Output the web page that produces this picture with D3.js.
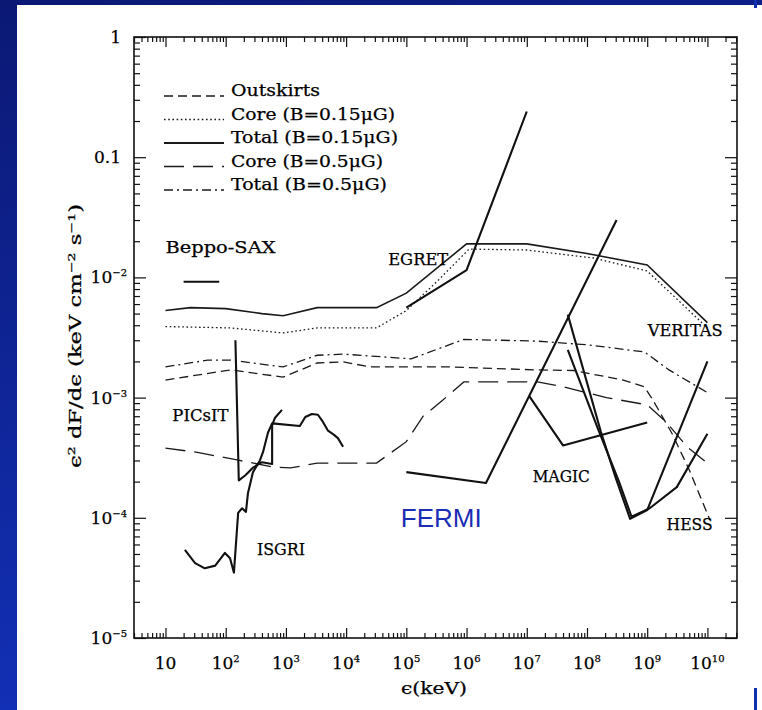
<!DOCTYPE html>
<html>
<head>
<meta charset="utf-8">
<script src="https://cdn.jsdelivr.net/npm/d3@7"></script>
<style>
  body { margin: 0; background: #fff; }
  svg { display: block; }
  .lbl { font-family: 'DejaVu Serif', serif; fill: #000; stroke: #000; stroke-width: 0.25px; }
</style>
</head>
<body>
<svg id="chart" width="762" height="710"></svg>
<script>
// model spectra: [energy (keV), e^2 dF/de (keV cm^-2 s^-1)]
var outskirts = [[10,1.4e-3],[120,1.7e-3],[900,1.48e-3],[3.3e3,1.94e-3],[9e3,1.98e-3],[2.5e4,1.8e-3],[5e5,1.8e-3],[1.5e7,1.7e-3],[6e7,1.68e-3],[4e8,1.4e-3],[9e8,1.23e-3],[1.25e9,9.5e-4],[2.6e9,5e-4],[5e9,2.5e-4],[1.1e10,9.6e-5]];
var core015 = [[10,3.9e-3],[120,3.8e-3],[900,3.45e-3],[3.3e3,3.8e-3],[3.2e4,3.8e-3],[1e5,5.3e-3],[3.2e5,9.2e-3],[1.1e6,1.72e-2],[1e7,1.69e-2],[1.3e8,1.45e-2],[1e9,1.13e-2],[1e10,3.8e-3]];
var total015 = [[10,5.3e-3],[26,5.6e-3],[100,5.5e-3],[400,5.0e-3],[900,4.8e-3],[3.3e3,5.6e-3],[3.2e4,5.6e-3],[1e5,7.4e-3],[1e6,1.9e-2],[1e7,1.9e-2],[1e8,1.58e-2],[1e9,1.27e-2],[1e10,4.2e-3]];
var core05 = [[10,3.8e-4],[34,3.5e-4],[170,3.0e-4],[600,2.65e-4],[1.2e3,2.6e-4],[3.3e3,2.85e-4],[3.2e4,2.85e-4],[1e5,4.3e-4],[1.9e5,7e-4],[4e5,9.5e-4],[9e5,1.35e-3],[1.5e7,1.35e-3],[4e7,1.23e-3],[2.1e8,1.0e-3],[1e9,8.7e-4],[2.1e9,6.2e-4],[4.6e9,3.9e-4],[1e10,2.85e-4]];
var total05 = [[10,1.8e-3],[50,2.05e-3],[120,2.05e-3],[900,1.8e-3],[3.3e3,2.25e-3],[9e3,2.3e-3],[1.2e5,2.1e-3],[9e5,3.05e-3],[1.5e7,2.95e-3],[1e8,2.75e-3],[9e8,2.4e-3],[2.3e9,1.7e-3],[1e10,1.1e-3]];

// instrument sensitivities
var beppoSax = [[20,9.2e-3],[78,9.2e-3]];
var picsit = [[145,3e-3],[165,2.05e-4],[210,2.25e-4],[280,2.6e-4],[400,2.9e-4],[590,2.8e-4],[590,5.9e-4],[660,6.8e-4],[860,7.9e-4]];
var isgri = [[21,5.4e-5],[31,4.2e-5],[45,3.8e-5],[67,4.0e-5],[97,5.1e-5],[118,4.6e-5],[137,3.5e-5],[161,1.1e-4],[187,1.2e-4],[217,1.12e-4],[234,1.6e-4],[284,2.4e-4],[370,3.0e-4],[415,3.5e-4],[503,5.1e-4],[590,6.1e-4],[1.7e3,5.8e-4],[2.1e3,6.9e-4],[2.7e3,7.3e-4],[3.4e3,7.2e-4],[4.1e3,6.3e-4],[5e3,5.3e-4],[6.3e3,4.9e-4],[7.3e3,4.6e-4],[8.9e3,3.9e-4]];
var fermi = [[1e5,2.4e-4],[2.1e6,1.95e-4],[3.1e8,3.0e-2]];
var egret = [[1e5,5.6e-3],[1e6,1.15e-2],[1e7,0.24]];
var magic = [[1.1e7,1.03e-3],[4e7,4e-4],[1e9,6.2e-4]];
var veritas = [[4.8e7,4.9e-3],[1.7e8,5.2e-4],[3e8,2.15e-4],[5.2e8,9.8e-5],[1e9,1.16e-4],[1e10,2e-3]];
var hess = [[4.8e7,2.5e-3],[1.5e8,5.6e-4],[3.4e8,2e-4],[5.5e8,1.02e-4],[1.1e9,1.2e-4],[3.1e9,1.8e-4],[1e10,5e-4]];

// tick labels
var xLabelPowers = [1,2,3,4,5,6,7,8,9,10];
var yLabels = [["1",""],["0.1",""],["10","−2"],["10","−3"],["10","−4"],["10","−5"]];
var yLabelValues = [1,0.1,1e-2,1e-3,1e-4,1e-5];

// legend
var legendNames = ["Outskirts","Core (B=0.15μG)","Total (B=0.15μG)","Core (B=0.5μG)","Total (B=0.5μG)"];
var legendWidths = [89,164,167,152,156];

// instrument names, anchored at [energy, flux]
var noteNames = ["Beppo-SAX","EGRET","PICsIT","ISGRI","MAGIC","VERITAS","HESS"];
var notePos = [[10,1.79e-2],[5e4,1.42e-2],[13,7.2e-4],[330,5.5e-5],[1.26e7,2.23e-4],[1.02e9,3.65e-3],[2.1e9,8.9e-5]];
var noteWidths = [110,60,56,48,57,75,46];

var svg = d3.select("#chart");

// slide background
var grad = svg.append("defs").append("linearGradient")
  .attr("id", "bg").attr("x1", 0).attr("y1", 0).attr("x2", 0.3).attr("y2", 1);
grad.append("stop").attr("offset", "0%").attr("stop-color", "#0b1874");
grad.append("stop").attr("offset", "100%").attr("stop-color", "#1332bb");
svg.append("rect").attr("width", 762).attr("height", 710).attr("fill", "url(#bg)");
svg.append("rect").attr("x", 17).attr("y", 5).attr("width", 745).attr("height", 705).attr("fill", "#fff");
svg.append("rect").attr("x", 754).attr("y", 0).attr("width", 3).attr("height", 8).attr("fill", "#1030b0");
svg.append("rect").attr("x", 754).attr("y", 688).attr("width", 3).attr("height", 22).attr("fill", "#1030b0");

var plotL = 134, plotR = 737, plotT = 37, plotB = 638;

var xScale = d3.scaleLog().domain([3, 3.1e10]).range([plotL, plotR]);
var yScale = d3.scaleLog().domain([1e-5, 1]).range([plotB, plotT]);

var isPow = v => Math.abs(Math.log10(v) - Math.round(Math.log10(v))) < 1e-6;
var xt = xScale.ticks(40).filter(v => v >= 3 && v <= 3.1e10);
var yt = yScale.ticks(40);

function ticks(axis, pos, vals, size) {
  var g = svg.append("g").attr("transform", pos).call(axis.tickValues(vals).tickSize(size).tickFormat(""));
  g.select(".domain").remove();
  g.selectAll("line").attr("stroke", "#111").attr("stroke-width", 1.2);
}
ticks(d3.axisBottom(xScale), "translate(0," + plotB + ")", xt.filter(v => !isPow(v)), -5);
ticks(d3.axisBottom(xScale), "translate(0," + plotB + ")", xt.filter(isPow), -10);
ticks(d3.axisTop(xScale), "translate(0," + plotT + ")", xt.filter(v => !isPow(v)), -5);
ticks(d3.axisTop(xScale), "translate(0," + plotT + ")", xt.filter(isPow), -10);
ticks(d3.axisLeft(yScale), "translate(" + plotL + ",0)", yt.filter(v => !isPow(v)), -6);
ticks(d3.axisLeft(yScale), "translate(" + plotL + ",0)", yt.filter(isPow), -12);
ticks(d3.axisRight(yScale), "translate(" + plotR + ",0)", yt.filter(v => !isPow(v)), -6);
ticks(d3.axisRight(yScale), "translate(" + plotR + ",0)", yt.filter(isPow), -12);

svg.append("rect").attr("x", plotL).attr("y", plotT)
  .attr("width", plotR - plotL).attr("height", plotB - plotT)
  .attr("fill", "none").attr("stroke", "#111").attr("stroke-width", 1.6);

// x tick labels
xLabelPowers.forEach(function(p) {
  var t = svg.append("text").attr("class", "lbl")
    .attr("x", xScale(Math.pow(10, p))).attr("y", 669)
    .attr("text-anchor", "middle")
    .style("font-size", "17px")
    .text("10");
  if (p > 1) t.append("tspan").attr("dy", -7).style("font-size", "10px").text(p);
});

// y tick labels
yLabels.forEach(function(l, i) {
  var t = svg.append("text").attr("class", "lbl")
    .attr("x", l[1] ? 127 : 121).attr("y", yScale(yLabelValues[i]) + 6)
    .attr("text-anchor", "end")
    .style("font-size", "17px")
    .text(l[0]);
  if (l[1]) t.append("tspan").attr("dy", -7).style("font-size", "10px").text(l[1]);
});

// axis titles
svg.append("text").attr("class", "lbl")
  .attr("x", 434).attr("y", 694).attr("text-anchor", "middle")
  .attr("textLength", 66).attr("lengthAdjust", "spacingAndGlyphs")
  .style("font-size", "17px")
  .text("ϵ(keV)");

var yt2 = svg.append("text").attr("class", "lbl")
  .attr("transform", "translate(81,336) rotate(-90)")
  .attr("text-anchor", "middle")
  .attr("textLength", 264).attr("lengthAdjust", "spacingAndGlyphs")
  .style("font-size", "16px");
yt2.append("tspan").text("ϵ");
yt2.append("tspan").attr("dy", -6).style("font-size", "10px").text("2");
yt2.append("tspan").attr("dy", 6).text(" dF/dϵ (keV cm");
yt2.append("tspan").attr("dy", -6).style("font-size", "10px").text("−2");
yt2.append("tspan").attr("dy", 6).text(" s");
yt2.append("tspan").attr("dy", -6).style("font-size", "10px").text("−1");
yt2.append("tspan").attr("dy", 6).text(")");

var line = d3.line()
  .x(d => xScale(d[0]))
  .y(d => yScale(d[1]));

var models = [outskirts, core015, total015, core05, total05];
var dashes = ["9,5", "1.6,2.6", null, "20,9", "9,4,2,4"];

models.forEach(function(m, i) {
  svg.append("path")
    .datum(m)
    .attr("d", line)
    .attr("fill", "none")
    .attr("stroke", "#1a1a1a")
    .attr("stroke-width", i == 2 ? 1.6 : 1.3)
    .attr("stroke-dasharray", dashes[i]);
});

var instruments = [beppoSax, picsit, isgri, fermi, egret, magic, veritas, hess];
instruments.forEach(function(m) {
  svg.append("path")
    .datum(m)
    .attr("d", line)
    .attr("fill", "none")
    .attr("stroke", "#111")
    .attr("stroke-width", 2.1)
    .attr("stroke-linejoin", "round");
});

// legend
legendNames.forEach(function(name, i) {
  var yy = 90 + i * 23.5;
  svg.append("line")
    .attr("x1", 164).attr("x2", 224).attr("y1", yy + 6).attr("y2", yy + 6)
    .attr("stroke", "#1a1a1a").attr("stroke-width", i == 2 ? 1.8 : 1.3)
    .attr("stroke-dasharray", dashes[i]);
  svg.append("text").attr("class", "lbl")
    .attr("x", 231).attr("y", yy + 6)
    .attr("textLength", legendWidths[i]).attr("lengthAdjust", "spacingAndGlyphs")
    .style("font-size", "17px")
    .text(name);
});

// instrument labels
noteNames.forEach(function(name, i) {
  svg.append("text").attr("class", "lbl")
    .attr("x", xScale(notePos[i][0])).attr("y", yScale(notePos[i][1]) + 6)
    .attr("textLength", noteWidths[i]).attr("lengthAdjust", "spacingAndGlyphs")
    .style("font-size", "16px")
    .text(name);
});

svg.append("text")
  .attr("x", xScale(8.1e4)).attr("y", yScale(1e-4) + 9)
  .style("font-family", "'Liberation Sans', Arial, sans-serif").style("font-size", "26px")
  .attr("fill", "#1a2db4")
  .text("FERMI");
</script>
</body>
</html>
